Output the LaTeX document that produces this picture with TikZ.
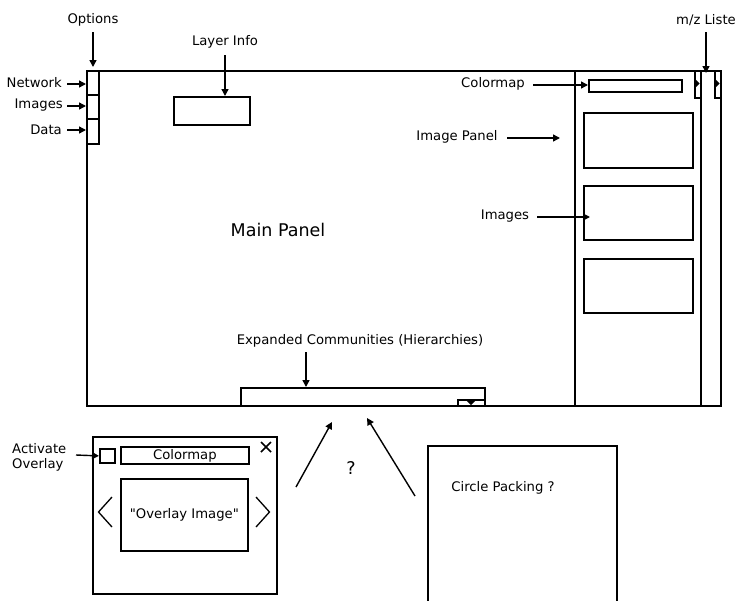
\documentclass[tikz,border=0pt]{standalone}
\usepackage{fontspec}
\setmainfont{DejaVu Sans}[Ligatures=TeXOff]
\usetikzlibrary{arrows.meta,calc}
\begin{document}
\begin{tikzpicture}[x=1pt,y=-1pt,
  frame/.style={draw, line width=1.8pt, inner sep=0pt, anchor=north west},
  lbl/.style={inner sep=0pt, font=\fontsize{13.2}{15}\selectfont},
  big/.style={inner sep=0pt, font=\fontsize{17.5}{20}\selectfont},
  arr/.style={line width=1.4pt, -{Triangle[length=7pt,width=7pt]}}]
\useasboundingbox (0,0) rectangle (739,600);

% main window with its side panels
\node[frame, minimum width=634pt, minimum height=335pt] (main) at (86,70) {};
\node[frame, minimum width=126pt, minimum height=335pt] (imgpanel) at (574,70) {};
\node[frame, minimum width=20pt, minimum height=335pt] (mzcol) at (700,70) {};

% option tabs on the left edge
\node[frame, minimum width=12pt, minimum height=24pt] (opt1) at (86,70) {};
\node[frame, minimum width=12pt, minimum height=24pt] (opt2) at (86,94) {};
\node[frame, minimum width=12pt, minimum height=25pt] (opt3) at (86,118) {};

% collapse tabs at the top right
\node[frame, minimum width=6pt, minimum height=27pt] (tab1) at (694,70) {};
\node[frame, minimum width=6pt, minimum height=27pt] (tab2) at (714,70) {};
\fill (695,79) -- (699.5,83.5) -- (695,88) -- cycle;
\fill (715,79) -- (719.5,83.5) -- (715,88) -- cycle;

% content boxes
\node[frame, minimum width=76pt, minimum height=28pt] (layerbox) at (173,96) {};
\node[frame, minimum width=93pt, minimum height=12pt] (cbar) at (588,79) {};
\node[frame, minimum width=109pt, minimum height=55pt] (img1) at (583,112) {};
\node[frame, minimum width=109pt, minimum height=54pt] (img2) at (583,185) {};
\node[frame, minimum width=109pt, minimum height=54pt] (img3) at (583,258) {};
\node[frame, minimum width=244pt, minimum height=18pt] (expbox) at (240,387) {};
\node[frame, minimum width=27pt, minimum height=6pt] (drop) at (457,399) {};
\fill (466,400) -- (476,400) -- (471,405) -- cycle;

% labels of the main window
\node[lbl] (lopt) at (93,20) {Options};
\node[lbl, anchor=east] (lnet) at (62,83) {Network};
\node[lbl, anchor=east] (limg) at (63,105) {Images};
\node[lbl, anchor=east] (ldat) at (62,130) {Data};
\node[lbl] (llay) at (225,42) {Layer Info};
\node[lbl] (lmz) at (706,20) {m/z Liste};
\node[lbl] (lcmap) at (493,84) {Colormap};
\node[lbl] (lipan) at (457,137) {Image Panel};
\node[lbl] (limgs) at (505,216) {Images};
\node[big] (lmain) at (278,230) {Main Panel};
\node[lbl] (lexp) at (360,341) {Expanded Communities (Hierarchies)};

\coordinate (optTip) at (93,67);
\coordinate (mzTip) at (706,73);
\coordinate (ipanTip) at (560,138);
\coordinate (imgsTip) at (590,217);
\draw[arr] (lopt.south |- 0,32) -- (optTip);
\draw[arr] (67,84) coordinate (netStart) -- (netStart -| opt1.west);
\draw[arr] (67,106) coordinate (imgStart) -- (imgStart -| opt2.west);
\draw[arr] (67,130) coordinate (datStart) -- (datStart -| opt3.west);
\draw[arr] (llay.south |- 0,55) -- (llay.south |- layerbox.north);
\draw[arr] (lmz.south |- 0,32) -- (mzTip);
\draw[arr] (533,85) coordinate (cmStart) -- (cmStart -| cbar.west);
\draw[arr] (507,138) -- (ipanTip);
\draw[arr] (537,217) -- (imgsTip);
\draw[arr] (306,352) -- (306,387);

% overlay window
\node[frame, minimum width=184pt, minimum height=157pt] (overlay) at (92,436) {};
\node[frame, minimum width=15pt, minimum height=14pt] (check) at (99,448) {};
\node[frame, minimum width=128pt, minimum height=17pt, font=\fontsize{13.2}{15}\selectfont] (ocmap) at (120,446) {Colormap};
\node[frame, minimum width=127pt, minimum height=72pt, font=\fontsize{13.2}{15}\selectfont] (oimg) at (120,478) {"Overlay Image"};
\draw[line width=1.6pt] (261,442) -- (271,452) (271,442) -- (261,452);
\draw[line width=1.3pt] (112,497) -- (98.5,512) -- (112,527);
\draw[line width=1.3pt] (256,497) -- (269.5,512) -- (256,527);
\node[lbl, anchor=north west, align=left, font=\fontsize{13.2}{15.5}\selectfont] (lact) at (12,443) {Activate\\Overlay};
\draw[arr] (76,455) -- (check.west);

% open questions below
\node[big] (lq) at (351,468) {?};
\coordinate (qa1) at (296,487);
\coordinate (qa2) at (332,422);
\coordinate (qb1) at (415,496);
\coordinate (qb2) at (367,418);
\draw[arr] (qa1) -- (qa2);
\draw[arr] (qb1) -- (qb2);

\node[frame, minimum width=189pt, minimum height=165pt] (circ) at (427,445) {};
\node[lbl] (lcirc) at (503,488) {Circle Packing ?};
\end{tikzpicture}
\end{document}
